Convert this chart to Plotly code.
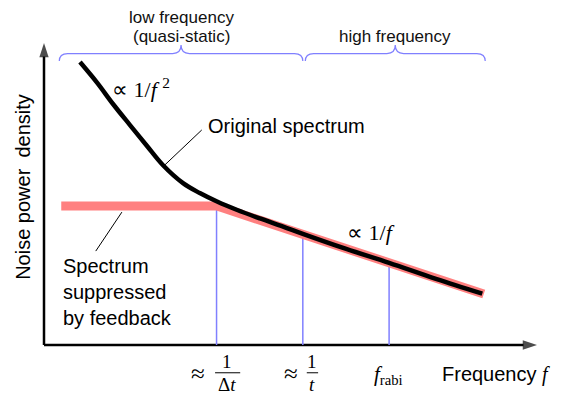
import plotly.graph_objects as go

# frequency / noise power in arbitrary units
freq = [0.73, 1.08, 1.40, 1.74, 2.09, 2.41, 2.82, 3.16, 3.51, 3.92, 4.38, 4.85, 5.25, 6.13, 7.00, 7.95, 8.89]
original = [9.37, 8.68, 7.98, 7.29, 6.59, 5.96, 5.36, 5.03, 4.75, 4.47, 4.19, 3.92, 3.68, 3.18, 2.72, 2.19, 1.70]

suppressed_f = [0.35, 3.51, 8.92]
suppressed = [4.60, 4.60, 1.69]

marker_f = [3.50, 5.25, 7.00]
marker_top = [4.62, 3.60, 2.65]

bands = [["low frequency", "(quasi-static)"], ["high frequency"]]
band_edges = [[0.31, 5.25], [5.30, 8.95]]

# pixel <-> data mapping; page body has an 8px margin, so the figure is 8px smaller
PAGE_W, PAGE_H, BODY = 566, 395, 8
W, H = PAGE_W - BODY, PAGE_H - BODY
X0, XS = 44 - BODY, 49.3
Y0, YS = 345 - BODY, 30.2
xr = [-X0 / XS, (W - X0) / XS]
yr = [(Y0 - H) / YS, Y0 / YS]

SANS = "Liberation Sans, Arial, sans-serif"
SERIF = "Liberation Serif, Times New Roman, serif"
BLUE = "#8080ff"

fig = go.Figure()

# axes drawn as lines ending in arrow markers
for ax_x, ax_y in [([0, 10], [0, 0]), ([0, 0], [0, 10])]:
    fig.add_trace(go.Scatter(x=ax_x, y=ax_y, mode="lines+markers", hoverinfo="skip",
                             line=dict(color="black", width=2.5),
                             marker=dict(symbol=["circle", "arrow"], size=[0, 15],
                                         angleref="previous", color="black",
                                         line=dict(width=0))))

# vertical markers
for f, top in zip(marker_f, marker_top):
    fig.add_trace(go.Scatter(x=[f, f], y=[0, top], mode="lines",
                             line=dict(color=BLUE, width=1.5), hoverinfo="skip"))

fig.add_trace(go.Scatter(x=suppressed_f, y=suppressed, mode="lines", name="Suppressed",
                         line=dict(color="#ff8080", width=9)))
fig.add_trace(go.Scatter(x=freq, y=original, mode="lines", name="Original",
                         line=dict(color="black", width=4.5, shape="spline", smoothing=1)))

# braces over the bands
bh, bm, bt = 9.40, 9.65, 9.93
rx = 0.17
for (a, b), label in zip(band_edges, bands):
    c = (a + b) / 2
    path = (f"M {a},{bh} Q {a},{bm} {a + rx},{bm} L {c - rx},{bm} Q {c},{bm} {c},{bt} "
            f"Q {c},{bm} {c + rx},{bm} L {b - rx},{bm} Q {b},{bm} {b},{bh}")
    fig.add_shape(type="path", path=path, xref="x", yref="y",
                  line=dict(color=BLUE, width=1.2))
    # one annotation per line, bottom line just above the brace
    for i, line in enumerate(reversed(label)):
        fig.add_annotation(x=c, y=10.23 + 0.60 * i, text=line, showarrow=False,
                           font=dict(family=SANS, size=17, color="#111"))

# leader lines
leaders = [[3.20, 7.12, 2.45, 5.96], [1.58, 4.40, 1.05, 3.11]]
for x0, y0, x1, y1 in leaders:
    fig.add_shape(type="line", x0=x0, y0=y0, x1=x1, y1=y1, xref="x", yref="y",
                  line=dict(color="black", width=1))

def txt(x, y, s, size=20, family=SANS, xanchor="center", align="center"):
    fig.add_annotation(x=x, y=y, text=s, showarrow=False, xanchor=xanchor, align=align,
                       font=dict(family=family, size=size, color="black"))

txt(3.29, 7.25, "Original spectrum", xanchor="left")
txt(0.34, 1.75, "Spectrum<br>suppressed<br>by feedback", xanchor="left", align="left")
txt(1.34, 8.50, "∝ 1/<i>f</i> <sup>2</sup>", size=22, family=SERIF, xanchor="left")
txt(6.11, 3.71, "∝ 1/<i>f</i>", size=22, family=SERIF, xanchor="left")
txt(8.03, -0.99, "Frequency <span style='font-family:Liberation Serif'><i>f</i></span>",
    xanchor="left")

# x tick labels
txt(3.12, -0.95, "≈", size=25, family=SERIF)
txt(3.71, -0.56, "1", size=19, family=SERIF)
txt(3.71, -1.32, "Δ<i>t</i>", size=19, family=SERIF)
txt(5.02, -0.95, "≈", size=25, family=SERIF)
txt(5.43, -0.56, "1", size=19, family=SERIF)
txt(5.43, -1.32, "<i>t</i>", size=19, family=SERIF)
txt(6.98, -0.99, "<i>f</i><sub>rabi</sub>", size=21, family=SERIF)
for x0, x1 in [[3.47, 3.98], [5.33, 5.56]]:
    fig.add_shape(type="line", x0=x0, x1=x1, y0=-0.92, y1=-0.92, xref="x", yref="y",
                  line=dict(color="black", width=1))

fig.add_annotation(x=-0.43, y=5.23, text="Noise power  density", textangle=-90,
                   showarrow=False, font=dict(family=SANS, size=20, color="black"))

fig.update_xaxes(range=xr, visible=False)
fig.update_yaxes(range=yr, visible=False)
fig.update_layout(width=W, height=H, margin=dict(l=0, r=0, t=0, b=0),
                  plot_bgcolor="white", paper_bgcolor="white", showlegend=False)

fig.write_html("out.html")
